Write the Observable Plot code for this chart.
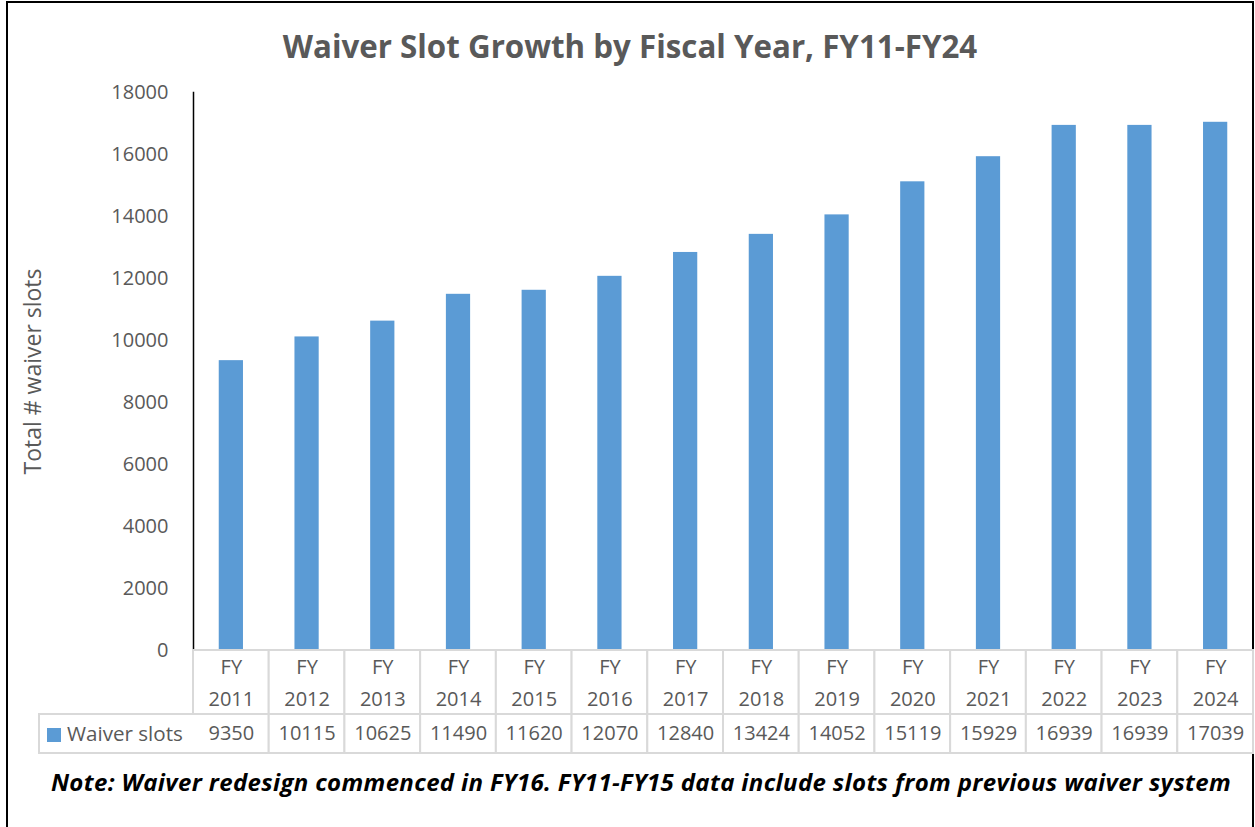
<!DOCTYPE html>
<html><head><meta charset="utf-8">
<script src="https://cdn.jsdelivr.net/npm/d3@7"></script>
<script src="https://cdn.jsdelivr.net/npm/@observablehq/plot@0.6"></script>
<style>
html,body{margin:0;padding:0;background:#fff;overflow:hidden;width:1255px;height:827px;font-family:"Open Sans",Lato,sans-serif;}
#frame{position:absolute;left:6px;top:1px;width:1244px;height:860px;border:2px solid #000;border-bottom:none;}
#title{position:absolute;left:0;width:1260px;top:25px;text-align:center;font-weight:bold;font-size:31.3px;color:#595959;line-height:42px;}
#chart{position:absolute;left:0;top:70px;}
#tableA{position:absolute;left:0;top:648px;}
#tableB{position:absolute;left:0;top:712px;}
#legend{position:absolute;left:38px;top:713px;width:157px;height:41px;box-sizing:border-box;border:2px solid #d9d9d9;border-right:none;background:#fff;color:#595959;font-size:20.6px;line-height:37px;white-space:nowrap;}
#legend .sw{display:inline-block;width:14px;height:14px;background:#5b9bd5;margin:0 6px 0 7px;vertical-align:-1px;}
#note{position:absolute;left:0;width:1282px;top:766px;text-align:center;font-weight:bold;font-style:italic;font-size:24px;letter-spacing:0.35px;color:#000;line-height:32px;}
svg{overflow:visible;}
</style></head><body>
<div id="frame"></div>
<div id="title">Waiver Slot Growth by Fiscal Year, FY11-FY24</div>
<div id="chart"></div>
<div id="tableA"></div>
<div id="tableB"></div>
<div id="legend"><span class="sw"></span>Waiver slots</div>
<div id="note">Note: Waiver redesign commenced in FY16. FY11-FY15 data include slots from previous waiver system</div>
<script>
const categories = ["FY 2011","FY 2012","FY 2013","FY 2014","FY 2015","FY 2016","FY 2017","FY 2018","FY 2019","FY 2020","FY 2021","FY 2022","FY 2023","FY 2024"];
const waiverSlots = [9350,10115,10625,11490,11620,12070,12840,13424,14052,15119,15929,16939,16939,17039];
const yTicks = [0,2000,4000,6000,8000,10000,12000,14000,16000,18000];
const seriesName = "Waiver slots";
const yTitle = "Total # waiver slots";

const data = categories.map((c,i)=>({cat:c, v:waiverSlots[i]}));
const W = 1255, ML = 193, MR = 2;
const baseStyle = {fontFamily:"Open Sans", fontSize:"20px", color:"#595959", background:"transparent", overflow:"visible"};

const chart = Plot.plot({
  width: W, height: 582,
  marginTop: 22, marginBottom: 2, marginLeft: ML, marginRight: MR,
  style: baseStyle,
  x: {domain: categories, paddingInner: 0.68, paddingOuter: 0.34, round: false, axis: null},
  y: {domain: [0, 18000]},
  marks: [
    Plot.barY(data, {x: "cat", y: "v", fill: "#5b9bd5"}),
    Plot.axisY({ticks: yTicks, tickFormat: d3.format("d"), tickSize: 0, tickPadding: 25, label: null, fontSize: 20}),
    Plot.frame({anchor: "left", stroke: "#000", strokeWidth: 1.5}),
    Plot.text([yTitle], {frameAnchor: "left", textAnchor: "middle", rotate: -90, dx: -160, fontSize: 23, fill: "#595959"})
  ]
});
document.getElementById("chart").append(chart);

function tableRow(h, textFn, lh, dy) {
  return Plot.plot({
    width: W, height: h + 4,
    marginTop: 2, marginBottom: 2, marginLeft: ML, marginRight: MR,
    style: baseStyle,
    x: {domain: categories, padding: 0, round: false, axis: null},
    marks: [
      Plot.cell(data, {x: "cat", fill: "white", stroke: "#d9d9d9", strokeWidth: 2, inset: 0}),
      Plot.text(data, {x: "cat", text: textFn, frameAnchor: "middle", fontSize: 20, fill: "#595959", lineHeight: lh, dy: dy})
    ]
  });
}
document.getElementById("tableA").append(tableRow(64, d => d.cat.replace(" ", "\n"), 1.6, -3));
document.getElementById("tableB").append(tableRow(39, d => String(d.v), 1, 0));
</script>
</body></html>
